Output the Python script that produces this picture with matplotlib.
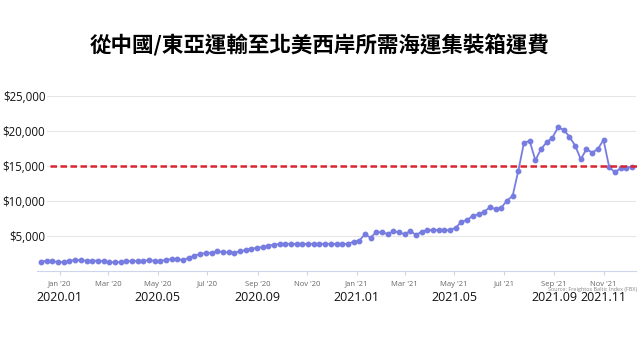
import numpy as np
import pandas as pd
import matplotlib
matplotlib.use("Agg")
import matplotlib.pyplot as plt

plt.rcParams['font.family'] = ['Open Sans', 'DejaVu Sans']

# weekly FBX China/East Asia -> North America West Coast, USD per FEU
dates = pd.date_range('2019-12-09', periods=105, freq='7D')
rates = [1330, 1470, 1390, 1290, 1290, 1470, 1570, 1530, 1470, 1470,
         1470, 1430, 1240, 1240, 1290, 1390, 1430, 1470, 1470, 1530,
         1470, 1430, 1610, 1710, 1670, 1570, 1900, 2190, 2430, 2570,
         2620, 2810, 2710, 2670, 2620, 2810, 3000, 3190, 3290, 3430,
         3620, 3760, 3860, 3880, 3880, 3880, 3880, 3880, 3880, 3880,
         3880, 3880, 3880, 3880, 3880, 4190, 4330, 5240, 4760, 5570,
         5530, 5290, 5670, 5530, 5240, 5720, 5140, 5620, 5860, 5860,
         5860, 5860, 5860, 6190, 7050, 7290, 7910, 8100, 8480, 9100,
         8860, 9050, 10050, 10720, 14330, 18340, 18580, 15810, 17430, 18390,
         19050, 20530, 20150, 19190, 17910, 15960, 17430, 16910, 17430, 18720,
         14820, 14100, 14670, 14760, 14900]
threshold = 15000
yticks = [5000, 10000, 15000, 20000, 25000]
month_ticks = pd.date_range('2020-01-01', '2021-11-01', freq='2MS')
period_dates = pd.to_datetime(['2020-01-01', '2020-05-01', '2020-09-01', '2021-01-01',
                               '2021-05-01', '2021-09-01', '2021-11-01'])
period_labels = ['2020.01', '2020.05', '2020.09', '2021.01', '2021.05', '2021.09', '2021.11']
title = '從中國/東亞運輸至北美西岸所需海運集裝箱運費'

fig = plt.figure(figsize=(6.4, 3.6), dpi=100)
ax = fig.add_axes([37/640, 89/360, 599/640, 175/360])

ax.plot(dates, rates, color='#777ce0', lw=1.3, marker='o', ms=3.2, zorder=3)
ax.axhline(threshold, xmin=0.022, xmax=1.01, color='#d9252f', lw=1.8,
           ls=(0, (2.6, 1.4)), clip_on=False, zorder=4)

ax.set_ylim(0, 25000)
ax.set_xlim(pd.Timestamp('2019-12-04'), pd.Timestamp('2021-12-11'))
ax.set_yticks(yticks)
ax.yaxis.set_major_formatter(lambda v, p: f'${v:,.0f}')
ax.tick_params(axis='y', length=0, pad=-6, labelsize=8.3, labelcolor='#111111')
for lbl in ax.get_yticklabels():
    lbl.set_bbox(dict(facecolor='white', edgecolor='none', pad=1))

ax.set_xticks(month_ticks)
ax.set_xticklabels([d.strftime("%b '%y") for d in month_ticks])
ax.tick_params(axis='x', length=3, color='#ccd6eb', pad=4, labelsize=5.5, labelcolor='#666666')

ax.grid(axis='y', color='#e6e6e6', lw=0.8)
for s in ['top', 'right', 'left']:
    ax.spines[s].set_visible(False)
ax.spines['bottom'].set_color('#ccd6eb')

for d, lab in zip(period_dates, period_labels):
    ax.text(d, -0.149, lab, transform=ax.get_xaxis_transform(), ha='center', va='center',
            fontsize=9, color='#111111', clip_on=False)

fig.text(637/640, 1 - 289/360, 'Source: Freightos Baltic Index (FBX)', ha='right', va='center',
         fontsize=4, color='#888888')
fig.text(0.5, 1 - 45/360, title, ha='center', va='center', fontsize=15.5, fontweight='bold',
         family=['Noto Sans CJK TC', 'DejaVu Sans'])

fig.savefig('out.png', dpi=100)
